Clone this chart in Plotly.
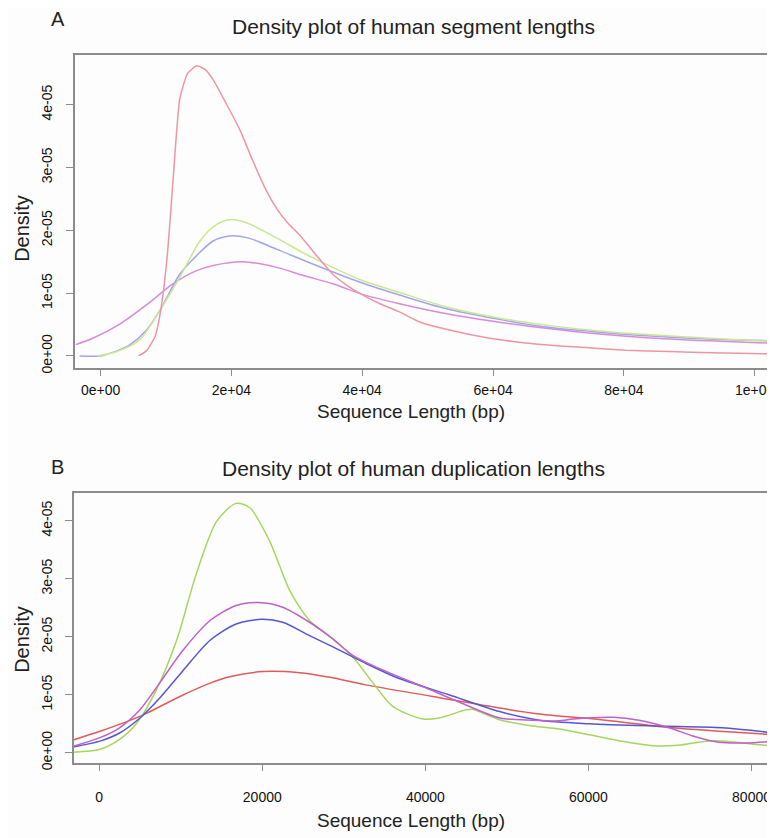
import plotly.graph_objects as go

W, H = 775, 838
OFF = 8  # page body margin of the browser

# ---------------- Panel A data (human segment lengths) ----------------
a_red_x = [5800, 7000, 8300, 9200, 10200, 11100, 12100, 13300, 14700, 16000, 17200, 19200, 21300, 23300, 25400, 26900,
           28500, 30400, 33000, 35500, 38000, 40600, 42700, 45700, 48800, 53000, 59500, 63000, 67500, 73000, 80300,
           87000, 93500, 103000]
a_red_y = [0.0, 0.08e-5, 0.3e-5, 0.73e-5, 1.6e-5, 2.83e-5, 4.09e-5, 4.5e-5, 4.62e-5, 4.56e-5, 4.4e-5, 4.02e-5, 3.6e-5,
           3.1e-5, 2.62e-5, 2.35e-5, 2.13e-5, 1.93e-5, 1.6e-5, 1.3e-5, 1.1e-5, 0.94e-5, 0.83e-5, 0.70e-5, 0.54e-5,
           0.42e-5, 0.28e-5, 0.23e-5, 0.18e-5, 0.14e-5, 0.09e-5, 0.07e-5, 0.05e-5, 0.03e-5]

a_green_x = [-500, 2500, 6000, 9100, 12100, 15200, 17700, 19700, 22300, 26900, 31000, 35500, 40000, 45700, 52900,
             60000, 68100, 75000, 83400, 93000, 103000]
a_green_y = [0.0, 0.07e-5, 0.26e-5, 0.73e-5, 1.25e-5, 1.83e-5, 2.09e-5, 2.17e-5, 2.12e-5, 1.88e-5, 1.64e-5, 1.41e-5,
             1.2e-5, 1.01e-5, 0.78e-5, 0.62e-5, 0.49e-5, 0.41e-5, 0.34e-5, 0.28e-5, 0.23e-5]

a_blue_x = [-3200, 0, 2500, 4500, 7000, 9100, 12100, 14700, 17200, 19700, 22500, 26900, 33000, 40000, 45700, 52900,
            60000, 68100, 75000, 83400, 93000, 103000]
a_blue_y = [0.0, 0.0, 0.08e-5, 0.18e-5, 0.41e-5, 0.73e-5, 1.3e-5, 1.6e-5, 1.83e-5, 1.91e-5, 1.88e-5, 1.7e-5, 1.44e-5,
            1.16e-5, 0.97e-5, 0.75e-5, 0.6e-5, 0.46e-5, 0.39e-5, 0.32e-5, 0.27e-5, 0.24e-5]

a_mag_x = [-3800, -1200, 3000, 7000, 11100, 14500, 17200, 21800, 26900, 31000, 35500, 40000, 45700, 52900, 60000,
           68100, 75000, 83400, 93000, 103000]
a_mag_y = [0.18e-5, 0.28e-5, 0.51e-5, 0.81e-5, 1.15e-5, 1.35e-5, 1.44e-5, 1.5e-5, 1.41e-5, 1.28e-5, 1.15e-5, 0.98e-5,
           0.83e-5, 0.67e-5, 0.55e-5, 0.44e-5, 0.36e-5, 0.29e-5, 0.24e-5, 0.2e-5]

# ---------------- Panel B data (human duplication lengths) ----------------
b_green_x = [-3180, 100, 2500, 4600, 7000, 9500, 11900, 14400, 16800, 18500, 20900, 23400, 25800, 28300, 31100,
             33600, 36000, 39700, 41700, 45000, 45800, 49100, 53200, 56400, 60100, 64000, 67900, 71000, 74400, 76800,
             80000, 82800]
b_green_y = [0.01e-5, 0.06e-5, 0.23e-5, 0.51e-5, 1.08e-5, 1.94e-5, 3.08e-5, 3.99e-5, 4.30e-5, 4.22e-5, 3.65e-5,
             2.79e-5, 2.28e-5, 2.0e-5, 1.65e-5, 1.20e-5, 0.80e-5, 0.58e-5, 0.60e-5, 0.74e-5, 0.75e-5, 0.57e-5,
             0.46e-5, 0.41e-5, 0.31e-5, 0.2e-5, 0.12e-5, 0.13e-5, 0.2e-5, 0.2e-5, 0.15e-5, 0.12e-5]

b_mag_x = [-3200, 100, 2500, 5000, 7400, 10300, 13600, 16800, 19500, 22500, 25800, 28500, 31100, 34400, 39700,
           44200, 49100, 53200, 56400, 58100, 63000, 66200, 69900, 72800, 76000, 79500, 82800]
b_mag_y = [0.11e-5, 0.26e-5, 0.43e-5, 0.74e-5, 1.20e-5, 1.77e-5, 2.28e-5, 2.54e-5, 2.59e-5, 2.51e-5, 2.25e-5,
           1.98e-5, 1.68e-5, 1.45e-5, 1.14e-5, 0.87e-5, 0.60e-5, 0.56e-5, 0.55e-5, 0.58e-5, 0.61e-5, 0.56e-5,
           0.43e-5, 0.29e-5, 0.18e-5, 0.17e-5, 0.2e-5]

b_blue_x = [-3200, 100, 2500, 5000, 7400, 10300, 13600, 16800, 19900, 22500, 25800, 28600, 32700, 36800, 42900,
            49100, 54000, 60100, 68300, 76400, 82800]
b_blue_y = [0.1e-5, 0.2e-5, 0.34e-5, 0.6e-5, 0.94e-5, 1.42e-5, 1.94e-5, 2.22e-5, 2.30e-5, 2.25e-5, 2.02e-5,
            1.83e-5, 1.54e-5, 1.28e-5, 1.0e-5, 0.71e-5, 0.56e-5, 0.5e-5, 0.46e-5, 0.43e-5, 0.34e-5]

b_red_x = [-3200, 100, 2900, 5800, 9900, 13600, 16000, 20100, 24600, 28300, 32700, 40900, 49100, 54000, 62100,
           70300, 82800]
b_red_y = [0.22e-5, 0.37e-5, 0.51e-5, 0.68e-5, 0.97e-5, 1.20e-5, 1.31e-5, 1.40e-5, 1.38e-5, 1.30e-5, 1.17e-5,
           0.97e-5, 0.77e-5, 0.67e-5, 0.56e-5, 0.43e-5, 0.31e-5]

# ---------------- tick labels ----------------
a_xtick_vals = [0, 20000, 40000, 60000, 80000, 100000]
a_xtick_text = ["0e+00", "2e+04", "4e+04", "6e+04", "8e+04", "1e+05"]
b_xtick_vals = [0, 20000, 40000, 60000, 80000]
b_xtick_text = ["0", "20000", "40000", "60000", "80000"]
ytick_vals = [0, 1e-5, 2e-5, 3e-5, 4e-5]
ytick_text = ["0e+00", "1e-05", "2e-05", "3e-05", "4e-05"]

FONT = "Liberation Sans, Arial, Helvetica, sans-serif"
AXC = "#8c8c8c"
FW, FH = W - OFF, H - OFF

fig = go.Figure()

def add(x, y, color, xa, ya, width=1.5, smoothing=0.8):
    fig.add_trace(go.Scatter(x=x, y=y, mode="lines", xaxis=xa, yaxis=ya,
                             line=dict(color=color, width=width, shape="spline", smoothing=smoothing),
                             showlegend=False, hoverinfo="skip"))

add(a_mag_x, a_mag_y, "#da8ada", "x", "y")
add(a_blue_x, a_blue_y, "#a4a4ee", "x", "y")
add(a_green_x, a_green_y, "#c9e890", "x", "y")
add(a_red_x, a_red_y, "#ee95a5", "x", "y", smoothing=0.5)

add(b_red_x, b_red_y, "#e05a5a", "x2", "y2")
add(b_green_x, b_green_y, "#a6d65c", "x2", "y2")
add(b_blue_x, b_blue_y, "#5656d0", "x2", "y2")
add(b_mag_x, b_mag_y, "#c060c8", "x2", "y2")

def px2x(p):
    return (p - OFF) / FW

def px2y(p):
    return 1 - (p - OFF) / FH

axis_common = dict(showgrid=False, zeroline=False, showline=True, linecolor=AXC, linewidth=1.5,
                   ticks="outside", ticklen=7, tickcolor=AXC, tickwidth=1.2, ticklabeloverflow="allow",
                   tickfont=dict(family=FONT, size=14, color="#111111"))

fig.update_layout(
    width=FW, height=FH, margin=dict(l=0, r=0, t=0, b=0),
    paper_bgcolor="#fdfdfd", plot_bgcolor="#fdfdfd",
    xaxis=dict(domain=[px2x(75), 1.0], range=[-3924, 102950], anchor="y", mirror=True,
               ticklabelstandoff=2,
               tickvals=a_xtick_vals, ticktext=a_xtick_text, **axis_common),
    yaxis=dict(domain=[px2y(371), px2y(55)], range=[-1.85e-6, 4.80e-5], anchor="x",
               ticklabelstandoff=9,
               tickvals=ytick_vals, ticktext=ytick_text, tickangle=-90, **axis_common),
    xaxis2=dict(domain=[px2x(74), 1.0], range=[-3099, 82755], anchor="y2", mirror=True,
                ticklabelstandoff=14,
                tickvals=b_xtick_vals, ticktext=b_xtick_text, **axis_common),
    yaxis2=dict(domain=[px2y(770), px2y(498)], range=[-1.71e-6, 4.474e-5], anchor="x2",
                ticklabelstandoff=8,
                tickvals=ytick_vals, ticktext=ytick_text, tickangle=-90, **axis_common),
)

def ann(text, x, y, size, angle=0):
    fig.add_annotation(text=text, x=px2x(x), y=px2y(y), xref="paper", yref="paper",
                       showarrow=False, textangle=angle, xanchor="center", yanchor="middle",
                       font=dict(family=FONT, size=size, color="#222222"))

ann("A", 58, 19, 20)
ann("Density plot of human segment lengths", 414, 27, 21)
ann("Sequence Length (bp)", 412, 415, 19)
ann("Density", 22, 230, 20, -90)

ann("B", 58, 471, 20)
ann("Density plot of human duplication lengths", 414, 473, 21)
ann("Sequence Length (bp)", 412, 828, 19)
ann("Density", 22, 645, 20, -90)

fig.write_html("out.html")
